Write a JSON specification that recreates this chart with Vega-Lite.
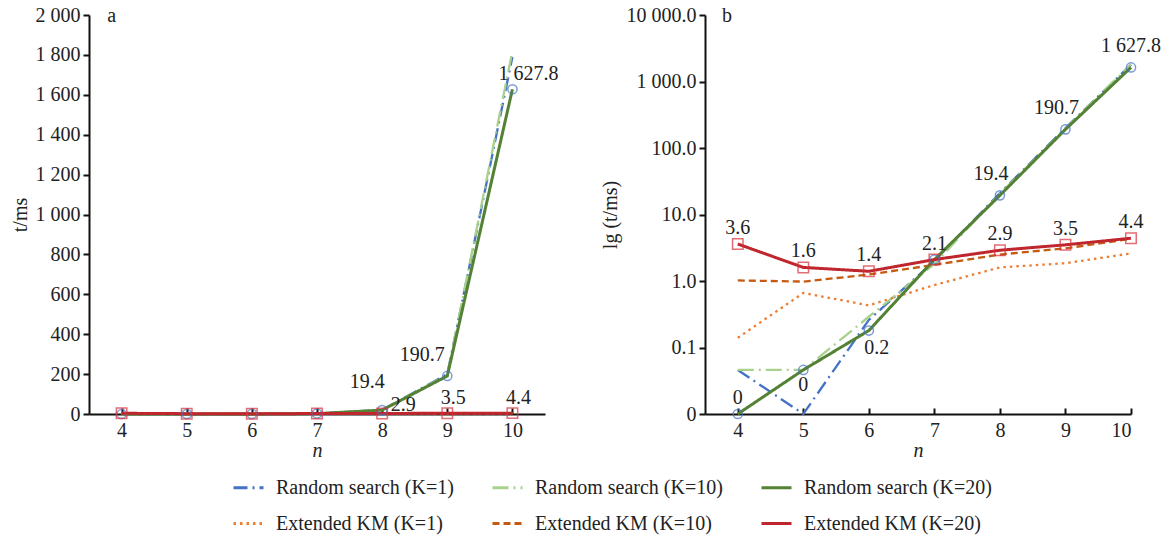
{
  "$schema": "https://vega.github.io/schema/vega-lite/v6.json",
  "padding": {"left": 10, "top": 5, "right": 2, "bottom": 2},
  "background": "white",
  "datasets": {
    "d": [
      {"n": 4, "s": "Random search (K=1)", "t": 0.046},
      {"n": 5, "s": "Random search (K=1)", "t": 0.01},
      {"n": 6, "s": "Random search (K=1)", "t": 0.26},
      {"n": 7, "s": "Random search (K=1)", "t": 2.0},
      {"n": 8, "s": "Random search (K=1)", "t": 21},
      {"n": 9, "s": "Random search (K=1)", "t": 200},
      {"n": 10, "s": "Random search (K=1)", "t": 1790},
      {"n": 4, "s": "Random search (K=10)", "t": 0.046},
      {"n": 5, "s": "Random search (K=10)", "t": 0.046},
      {"n": 6, "s": "Random search (K=10)", "t": 0.29},
      {"n": 7, "s": "Random search (K=10)", "t": 1.8},
      {"n": 8, "s": "Random search (K=10)", "t": 20.5},
      {"n": 9, "s": "Random search (K=10)", "t": 196},
      {"n": 10, "s": "Random search (K=10)", "t": 1820},
      {"n": 4, "s": "Random search (K=20)", "t": 0.01, "label": "0"},
      {"n": 5, "s": "Random search (K=20)", "t": 0.046, "label": "0"},
      {"n": 6, "s": "Random search (K=20)", "t": 0.18, "label": "0.2"},
      {"n": 7, "s": "Random search (K=20)", "t": 2.1, "label": ""},
      {"n": 8, "s": "Random search (K=20)", "t": 19.4, "label": "19.4"},
      {"n": 9, "s": "Random search (K=20)", "t": 190.7, "label": "190.7"},
      {"n": 10, "s": "Random search (K=20)", "t": 1627.8, "label": "1 627.8"},
      {"n": 4, "s": "Extended KM (K=1)", "t": 0.14},
      {"n": 5, "s": "Extended KM (K=1)", "t": 0.66},
      {"n": 6, "s": "Extended KM (K=1)", "t": 0.43},
      {"n": 7, "s": "Extended KM (K=1)", "t": 0.87},
      {"n": 8, "s": "Extended KM (K=1)", "t": 1.6},
      {"n": 9, "s": "Extended KM (K=1)", "t": 1.85},
      {"n": 10, "s": "Extended KM (K=1)", "t": 2.6},
      {"n": 4, "s": "Extended KM (K=10)", "t": 1.02},
      {"n": 5, "s": "Extended KM (K=10)", "t": 0.98},
      {"n": 6, "s": "Extended KM (K=10)", "t": 1.25},
      {"n": 7, "s": "Extended KM (K=10)", "t": 1.75},
      {"n": 8, "s": "Extended KM (K=10)", "t": 2.5},
      {"n": 9, "s": "Extended KM (K=10)", "t": 3.1},
      {"n": 10, "s": "Extended KM (K=10)", "t": 4.3},
      {"n": 4, "s": "Extended KM (K=20)", "t": 3.6, "label": "3.6"},
      {"n": 5, "s": "Extended KM (K=20)", "t": 1.6, "label": "1.6"},
      {"n": 6, "s": "Extended KM (K=20)", "t": 1.4, "label": "1.4"},
      {"n": 7, "s": "Extended KM (K=20)", "t": 2.1, "label": "2.1"},
      {"n": 8, "s": "Extended KM (K=20)", "t": 2.9, "label": "2.9"},
      {"n": 9, "s": "Extended KM (K=20)", "t": 3.5, "label": "3.5"},
      {"n": 10, "s": "Extended KM (K=20)", "t": 4.4, "label": "4.4"}
    ]
  },
  "config": {
    "view": {"stroke": null},
    "font": "Liberation Serif, Times New Roman, serif",
    "axis": {
      "grid": false,
      "domainColor": "#111",
      "domainWidth": 2,
      "tickColor": "#111",
      "tickWidth": 2,
      "labelFont": "Liberation Serif, Times New Roman, serif",
      "labelFontSize": 20,
      "labelColor": "#222",
      "titleFont": "Liberation Serif, Times New Roman, serif",
      "titleFontSize": 20,
      "titleFontWeight": "normal",
      "titleColor": "#222"
    },
    "legend": {
      "labelFont": "Liberation Serif, Times New Roman, serif"
    },
    "text": {"font": "Liberation Serif, Times New Roman, serif", "fontSize": 20, "fill": "#222"}
  },
  "bounds": "flush",
  "spacing": 160,
  "resolve": {
    "scale": {"x": "independent", "y": "independent", "color": "shared", "strokeDash": "shared"},
    "legend": {"color": "shared", "strokeDash": "shared"}
  },
  "hconcat": [
    {
      "width": 456,
      "height": 399,
      "data": {"name": "d"},
      "encoding": {
        "x": {"field": "n", "type": "quantitative", "scale": {"domain": [3.5, 10.5], "nice": false, "zero": false},
              "axis": {"values": [4, 5, 6, 7, 8, 9, 10], "title": "n", "titleFontStyle": "italic", "tickSize": -6, "labelPadding": 12, "titlePadding": 0}},
        "y": {"field": "t", "type": "quantitative", "scale": {"domain": [0, 2000], "nice": false},
              "axis": {"values": [0, 200, 400, 600, 800, 1000, 1200, 1400, 1600, 1800, 2000], "labelExpr": "replace(format(datum.value, ','), ',', ' ')", "title": "t/ms", "tickSize": 6, "labelPadding": 3, "titlePadding": 5}}
      },
      "layer": [
        {
          "transform": [{"filter": "indexof(datum.s, '=20') < 0"}],
          "mark": {"type": "line", "strokeWidth": 2.3},
          "encoding": {
            "color": {"field": "s", "type": "nominal", "scale": {"domain": ["Random search (K=1)", "Random search (K=10)", "Random search (K=20)", "Extended KM (K=1)", "Extended KM (K=10)", "Extended KM (K=20)"], "range": ["#4472C4", "#A9D18E", "#548235", "#ED7D31", "#C55A11", "#C0262D"]},
                      "legend": {"title": null, "orient": "none", "direction": "horizontal", "legendX": 143, "legendY": 456, "columns": 3, "symbolType": "stroke", "symbolSize": 900, "symbolStrokeWidth": 2.8, "labelFont": "Liberation Serif, Times New Roman, serif", "labelFontSize": 20, "labelColor": "#222", "columnPadding": 32, "rowPadding": 9, "labelOffset": 11, "labelLimit": 400}},
            "strokeDash": {"field": "s", "type": "nominal", "scale": {"domain": ["Random search (K=1)", "Random search (K=10)", "Random search (K=20)", "Extended KM (K=1)", "Extended KM (K=10)", "Extended KM (K=20)"], "range": [[14, 5, 2, 5], [16, 5, 2, 5], [1, 0], [2.5, 4], [7, 4], [1, 0]]},
                      "legend": {"title": null, "orient": "none", "direction": "horizontal", "legendX": 143, "legendY": 456, "columns": 3, "symbolType": "stroke", "symbolSize": 900, "symbolStrokeWidth": 2.8, "labelFont": "Liberation Serif, Times New Roman, serif", "labelFontSize": 20, "labelColor": "#222", "columnPadding": 32, "rowPadding": 9, "labelOffset": 11, "labelLimit": 400}}
          }
        },
        {
          "transform": [{"filter": "indexof(datum.s, '=20') >= 0"}],
          "mark": {"type": "line", "strokeWidth": 3},
          "encoding": {
            "color": {"field": "s", "type": "nominal"},
            "strokeDash": {"field": "s", "type": "nominal"}
          }
        },
        {
          "transform": [{"filter": "datum.s == 'Random search (K=20)'"}],
          "mark": {"type": "point", "shape": "circle", "filled": false, "stroke": "#4472C4", "strokeWidth": 1.5, "size": 85}
        },
        {
          "transform": [{"filter": "datum.s == 'Extended KM (K=20)'"}],
          "mark": {"type": "point", "shape": "square", "filled": false, "stroke": "#D8303A", "strokeWidth": 1.5, "size": 110}
        },
        {
          "transform": [{"filter": "datum.s == 'Random search (K=20)' && datum.n == 10"}],
          "mark": {"type": "text", "dx": 16, "dy": -15},
          "encoding": {"text": {"field": "label"}}
        },
        {
          "transform": [{"filter": "datum.s == 'Random search (K=20)' && datum.n == 9"}],
          "mark": {"type": "text", "dx": -25, "dy": -21},
          "encoding": {"text": {"field": "label"}}
        },
        {
          "transform": [{"filter": "datum.s == 'Random search (K=20)' && datum.n == 8"}],
          "mark": {"type": "text", "dx": -15, "dy": -28},
          "encoding": {"text": {"field": "label"}}
        },
        {
          "transform": [{"filter": "datum.s == 'Extended KM (K=20)' && datum.n == 8"}],
          "mark": {"type": "text", "dx": 21, "dy": -8},
          "encoding": {"text": {"field": "label"}}
        },
        {
          "transform": [{"filter": "datum.s == 'Extended KM (K=20)' && datum.n >= 9"}],
          "mark": {"type": "text", "dx": 6, "dy": -15},
          "encoding": {"text": {"field": "label"}}
        },
        {
          "data": {"values": [{"n": 3.78, "t": 2000, "lab": "a"}]},
          "mark": {"type": "text", "align": "left", "baseline": "middle", "dy": 1},
          "encoding": {"text": {"field": "lab"}}
        }
      ]
    },
    {
      "width": 426,
      "height": 399,
      "data": {"name": "d"},
      "encoding": {
        "x": {"field": "n", "type": "quantitative", "scale": {"domain": [3.5, 10], "nice": false, "zero": false},
              "axis": {"values": [4, 5, 6, 7, 8, 9, 10], "title": "n", "titleFontStyle": "italic", "tickSize": -6, "labelPadding": 12, "titlePadding": 0}},
        "y": {"field": "t", "type": "quantitative", "scale": {"type": "log", "domain": [0.01, 10000], "nice": false},
              "axis": {"values": [0.01, 0.1, 1, 10, 100, 1000, 10000], "labelExpr": "datum.value < 0.05 ? '0' : replace(format(datum.value, ',.1f'), ',', ' ')", "title": "lg (t/ms)", "tickSize": 6, "labelPadding": 3, "titlePadding": 6}}
      },
      "layer": [
        {
          "transform": [{"filter": "indexof(datum.s, '=20') < 0"}],
          "mark": {"type": "line", "strokeWidth": 2.3},
          "encoding": {
            "color": {"field": "s", "type": "nominal"},
            "strokeDash": {"field": "s", "type": "nominal"}
          }
        },
        {
          "transform": [{"filter": "indexof(datum.s, '=20') >= 0"}],
          "mark": {"type": "line", "strokeWidth": 3},
          "encoding": {
            "color": {"field": "s", "type": "nominal"},
            "strokeDash": {"field": "s", "type": "nominal"}
          }
        },
        {
          "transform": [{"filter": "datum.s == 'Random search (K=20)'"}],
          "mark": {"type": "point", "shape": "circle", "filled": false, "stroke": "#4472C4", "strokeWidth": 1.5, "size": 85}
        },
        {
          "transform": [{"filter": "datum.s == 'Extended KM (K=20)'"}],
          "mark": {"type": "point", "shape": "square", "filled": false, "stroke": "#D8303A", "strokeWidth": 1.5, "size": 110}
        },
        {
          "transform": [{"filter": "datum.s == 'Extended KM (K=20)'"}],
          "mark": {"type": "text", "dy": -16},
          "encoding": {"text": {"field": "label"}}
        },
        {
          "transform": [{"filter": "datum.s == 'Random search (K=20)' && datum.n == 4"}],
          "mark": {"type": "text", "dy": -16},
          "encoding": {"text": {"field": "label"}}
        },
        {
          "transform": [{"filter": "datum.s == 'Random search (K=20)' && datum.n == 5"}],
          "mark": {"type": "text", "dy": 15},
          "encoding": {"text": {"field": "label"}}
        },
        {
          "transform": [{"filter": "datum.s == 'Random search (K=20)' && datum.n == 6"}],
          "mark": {"type": "text", "dx": 8, "dy": 17},
          "encoding": {"text": {"field": "label"}}
        },
        {
          "transform": [{"filter": "datum.s == 'Random search (K=20)' && (datum.n == 8 || datum.n == 9)"}],
          "mark": {"type": "text", "dx": -9, "dy": -21},
          "encoding": {"text": {"field": "label"}}
        },
        {
          "transform": [{"filter": "datum.s == 'Random search (K=20)' && datum.n == 10"}],
          "mark": {"type": "text", "dx": 0, "dy": -21},
          "encoding": {"text": {"field": "label"}}
        },
        {
          "data": {"values": [{"n": 3.76, "t": 10000, "lab": "b"}]},
          "mark": {"type": "text", "align": "left", "baseline": "middle", "dy": 1},
          "encoding": {"text": {"field": "lab"}}
        }
      ]
    }
  ]
}
